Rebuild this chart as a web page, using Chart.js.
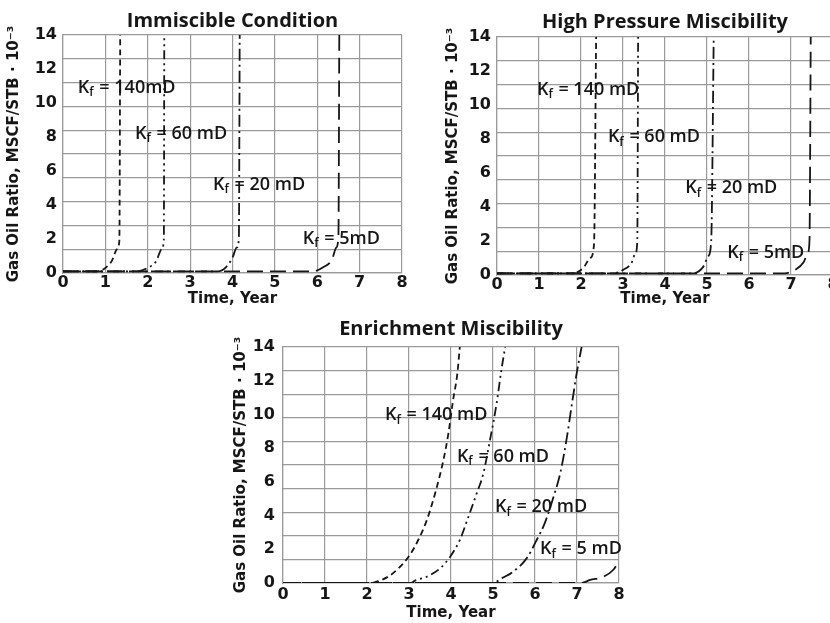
<!DOCTYPE html>
<html>
<head>
<meta charset="utf-8">
<title>Gas Oil Ratio vs Time</title>
<script src="https://cdn.jsdelivr.net/npm/chart.js@4.4.0/dist/chart.umd.min.js"></script>
<style>
  html, body { margin:0; padding:0; background:#fff; }
  body { width:830px; height:623px; position:relative; overflow:hidden; }
  canvas { position:absolute; }
</style>
</head>
<body>
<canvas id="c-imm" width="415" height="310" style="left:0;top:0"></canvas>
<canvas id="c-hpm" width="415" height="310" style="left:430px;top:0"></canvas>
<canvas id="c-enr" width="415" height="318" style="left:220px;top:305px"></canvas>
<script>
// ---- axis ticks ----
const X_TICKS = [0, 1, 2, 3, 4, 5, 6, 7, 8];
const Y_TICKS = [0, 2, 4, 6, 8, 10, 12, 14];
const PERMS = [140, 60, 20, 5];   // fracture permeability, mD

// ---- Immiscible Condition ----
const IMM_T_140 = [0, 0.8, 1.0, 1.15, 1.28, 1.33, 1.35];
const IMM_G_140 = [0.1, 0.1, 0.3, 0.7, 1.4, 1.9, 14];
const IMM_T_60  = [0, 1.75, 2.0, 2.2, 2.33, 2.38, 2.39];
const IMM_G_60  = [0.1, 0.1, 0.3, 0.7, 1.4, 2.0, 14];
const IMM_T_20  = [0, 3.65, 3.85, 4.0, 4.1, 4.15, 4.17];
const IMM_G_20  = [0.1, 0.1, 0.35, 0.9, 1.5, 2.0, 14];
const IMM_T_5   = [0, 5.9, 6.15, 6.35, 6.45, 6.5, 6.52];
const IMM_G_5   = [0.1, 0.1, 0.35, 0.8, 1.5, 2.2, 14];
const IMM_TAGS  = ['140mD', '60 mD', '20 mD', '5mD'];
const IMM_TAG_AT = [[0.35, 10.9], [1.70, 8.2], [3.54, 5.2], [5.66, 2.0]];

// ---- High Pressure Miscibility ----
const HPM_T_140 = [0, 1.8, 2.05, 2.22, 2.31, 2.36];
const HPM_G_140 = [0.1, 0.1, 0.4, 1.0, 1.8, 14];
const HPM_T_60  = [0, 2.75, 3.0, 3.2, 3.3, 3.34, 3.36];
const HPM_G_60  = [0.1, 0.1, 0.3, 0.7, 1.3, 2.0, 14];
const HPM_T_20  = [0, 4.65, 4.9, 5.03, 5.1, 5.16];
const HPM_G_20  = [0.1, 0.1, 0.45, 1.1, 2.0, 14];
const HPM_T_5   = [0, 6.85, 7.1, 7.3, 7.4, 7.44, 7.47];
const HPM_G_5   = [0.1, 0.1, 0.3, 0.75, 1.3, 2.0, 14];
const HPM_TAGS  = ['140 mD', '60 mD', '20 mD', '5mD'];
const HPM_TAG_AT = [[0.95, 10.9], [2.64, 8.1], [4.48, 5.1], [5.48, 1.3]];

// ---- Enrichment Miscibility ----
const ENR_T_140 = [0, 2.1, 2.3, 2.5, 2.75, 3.02, 3.22, 3.42, 3.62, 3.82, 3.94, 4.05, 4.15, 4.21];
const ENR_G_140 = [0, 0, 0.14, 0.37, 0.87, 1.66, 2.55, 3.7, 5.3, 7.3, 8.9, 10.85, 12.4, 14];
const ENR_T_60  = [0, 3.05, 3.14, 3.42, 3.74, 3.98, 4.21, 4.41, 4.61, 4.77, 4.93, 5.08, 5.21, 5.29];
const ENR_G_60  = [0, 0, 0.14, 0.37, 0.87, 1.56, 2.55, 3.9, 5.3, 6.5, 8.5, 10.56, 12.8, 14];
const ENR_T_20  = [0, 5.0, 5.21, 5.48, 5.8, 6.04, 6.24, 6.44, 6.6, 6.75, 6.87, 6.99, 7.11];
const ENR_G_20  = [0, 0, 0.28, 0.67, 1.46, 2.55, 3.6, 5.1, 6.5, 8.5, 10.47, 12.4, 14];
const ENR_T_5   = [0, 7.1, 7.31, 7.63, 7.86, 8.0];
const ENR_G_5   = [0, 0, 0.18, 0.37, 0.77, 1.3];
const ENR_TAGS  = ['140 mD', '60 mD', '20 mD', '5 mD'];
const ENR_TAG_AT = [[2.43, 9.96], [4.14, 7.47], [5.05, 4.5], [6.12, 2.0]];

// line style per permeability (short dash, dash-dot-dot, dash-dot, long dash)
const DASHES = [[6, 4], [9, 4, 2, 4, 2, 4], [12, 4, 2, 4], [16, 7]];
const INK = '#161616';
const GRID = '#9a9a9a';

Chart.defaults.font.family = '"DejaVu Sans", sans-serif';
Chart.defaults.color = INK;

function toPoints(xs, ys){ return xs.map((x, i) => ({ x, y: ys[i] })); }

// draws the "K_f = NN mD" tags at data coordinates
const kfTags = {
  id: 'kfTags',
  afterDatasetsDraw(chart, args, opts){
    const { ctx, scales:{ x, y } } = chart;
    ctx.save();
    ctx.fillStyle = INK;
    ctx.textBaseline = 'middle';
    opts.tags.forEach((tag, i) => {
      let px = x.getPixelForValue(opts.at[i][0]);
      const py = y.getPixelForValue(opts.at[i][1]);
      ctx.font = '600 18px "Open Sans"';
      ctx.fillText('K', px, py);
      px += ctx.measureText('K').width;
      ctx.font = '600 12px "Open Sans"';
      ctx.fillText('f', px, py + 5);
      px += ctx.measureText('f').width + 1;
      ctx.font = '600 18px "Open Sans"';
      ctx.fillText(' = ' + tag, px, py);
    });
    ctx.restore();
  }
};

function makeChart(id, title, ts, gs, tags, tagAt, g){
  const W = g.w, H = g.h;
  const titleLH = 20 * 1.2;
  return new Chart(document.getElementById(id), {
    type: 'line',
    data: {
      datasets: PERMS.map((k, i) => ({
        label: k + ' mD',
        data: toPoints(ts[i], gs[i]),
        borderColor: INK,
        borderWidth: 1.8,
        borderDash: DASHES[i],
        pointRadius: 0,
        cubicInterpolationMode: 'monotone',
        fill: false
      }))
    },
    options: {
      responsive: false,
      animation: false,
      layout: { padding: { left: 0, top: 0, right: W - g.r, bottom: 0 } },
      plugins: {
        legend: { display: false },
        tooltip: { enabled: false },
        title: {
          display: true, text: title, color: INK, fullSize: false,
          font: { family: '"Open Sans"', size: 20, weight: 'bold', lineHeight: 1.2 },
          padding: { top: g.titleY - titleLH / 2, bottom: g.t - g.titleY - titleLH / 2 }
        },
        kfTags: { tags, at: tagAt }
      },
      scales: {
        x: {
          type: 'linear', min: 0, max: 8,
          afterBuildTicks: s => { s.ticks = X_TICKS.map(v => ({ value: v })); },
          afterFit: s => { s.height = H - g.b; },
          grid: { color: GRID, lineWidth: 1.2, drawTicks: false },
          border: { color: GRID, width: 1.2 },
          ticks: { padding: g.xTickPad, font: { size: 16, weight: 'bold' }, color: INK },
          title: {
            display: true, text: 'Time, Year', color: INK,
            font: { size: 15, weight: 'bold', lineHeight: 1.2 },
            padding: { top: 0, bottom: g.xTitlePad }
          }
        },
        y: {
          type: 'linear', min: 0, max: 14, position: 'left',
          afterBuildTicks: s => { s.ticks = Y_TICKS.map(v => ({ value: v })); },
          afterFit: s => { s.width = g.l; },
          grid: { display: false, drawTicks: false },
          border: { color: GRID, width: 1.2 },
          ticks: { padding: g.yTickPad, font: { size: 16, weight: 'bold' }, color: INK },
          title: {
            display: true, text: 'Gas Oil Ratio, MSCF/STB \u00b7 10\u207b\u00b3', color: INK,
            font: { size: 15, weight: 'bold', lineHeight: 1.2 },
            padding: { top: g.yTitlePad, bottom: 0 }
          }
        },
        // the printed grid has 10 horizontal divisions, independent of the labels
        yg: {
          type: 'linear', min: 0, max: 14, position: 'right',
          ticks: { display: false, count: 11 },
          grid: { color: GRID, lineWidth: 1.2, drawTicks: false },
          border: { display: false }
        }
      }
    },
    plugins: [kfTags]
  });
}

makeChart('c-imm', 'Immiscible Condition',
  [IMM_T_140, IMM_T_60, IMM_T_20, IMM_T_5], [IMM_G_140, IMM_G_60, IMM_G_20, IMM_G_5],
  IMM_TAGS, IMM_TAG_AT,
  { w:415, h:310, l:63, t:35, r:402, b:273, titleY:21, xTickPad:0, xTitlePad:2, yTickPad:6, yTitlePad:5 });

makeChart('c-hpm', 'High Pressure Miscibility',
  [HPM_T_140, HPM_T_60, HPM_T_20, HPM_T_5], [HPM_G_140, HPM_G_60, HPM_G_20, HPM_G_5],
  HPM_TAGS, HPM_TAG_AT,
  { w:415, h:310, l:67, t:37, r:403, b:275, titleY:22, xTickPad:0, xTitlePad:2, yTickPad:6, yTitlePad:14 });

makeChart('c-enr', 'Enrichment Miscibility',
  [ENR_T_140, ENR_T_60, ENR_T_20, ENR_T_5], [ENR_G_140, ENR_G_60, ENR_G_20, ENR_G_5],
  ENR_TAGS, ENR_TAG_AT,
  { w:415, h:318, l:63, t:42, r:399, b:278, titleY:24, xTickPad:2, xTitlePad:1, yTickPad:8, yTitlePad:12 });
</script>
</body>
</html>
